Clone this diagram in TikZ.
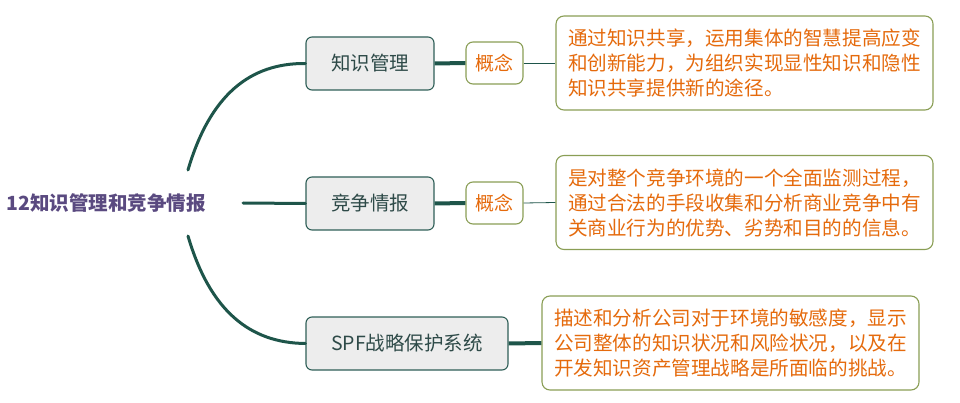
\documentclass[tikz,border=0pt]{standalone}
\usepackage{fontspec}
\setmainfont{Noto Sans CJK SC}
\usetikzlibrary{positioning}
\definecolor{trunkc}{HTML}{1E554A}
\definecolor{nodeb}{HTML}{2F5F57}
\definecolor{nodet}{HTML}{2E4A48}
\definecolor{olive}{HTML}{8A9E55}
\definecolor{orangec}{HTML}{E56A0C}
\definecolor{rootc}{HTML}{5A4A80}
\definecolor{boxfill}{HTML}{EDEDED}
\tikzset{
  trunk/.style={draw=trunkc, line width=3pt, line cap=round},
  branch/.style={draw=trunkc, line width=4pt},
  thin/.style={draw=trunkc, line width=0.8pt},
  topic/.style={draw=nodeb, fill=boxfill, line width=1.1pt, rounded corners=6pt,
    minimum height=53pt, text=nodet, font=\fontsize{19.5}{24}\selectfont, inner sep=0pt},
  concept/.style={draw=olive, fill=white, line width=1.1pt, rounded corners=7pt,
    minimum width=57pt, minimum height=42pt, text=orangec, font=\fontsize{19}{24}\selectfont, inner sep=0pt},
  desc/.style={draw=olive, fill=white, line width=1.1pt, rounded corners=8pt,
    minimum width=377pt, minimum height=94pt, text=orangec, align=left,
    font=\fontsize{19.6}{25}\selectfont, inner xsep=6pt, inner ysep=0pt},
}
\begin{document}
\begin{tikzpicture}[x=1pt,y=-1pt]
\useasboundingbox (0,0) rectangle (960,403);
\node[text=rootc, font=\fontsize{19.5}{24}\selectfont\bfseries] (root) at (106,203) {12知识管理和竞争情报};
\coordinate (rj) at (243,203);
\coordinate (ra) at (188,170);
\coordinate (rb) at (188,236);

\node[topic, minimum width=128pt] (n1) at (370,63.5) {知识管理};
\node[topic, minimum width=128pt] (n2) at (370,203.5) {竞争情报};
\node[topic, minimum width=202pt] (n3) at (407,343.5) {SPF战略保护系统};

\node[concept] (c1) at (494.5,63) {概念};
\node[concept] (c2) at (494.5,203) {概念};

\node[desc] (d1) at (744.5,63) {通过知识共享，运用集体的智慧提高应变\\和创新能力，为组织实现显性知识和隐性\\知识共享提供新的途径。};
\node[desc] (d2) at (744.5,202.5) {是对整个竞争环境的一个全面监测过程，\\通过合法的手段收集和分析商业竞争中有\\关商业行为的优势、劣势和目的的信息。};
\node[desc] (d3) at (730.5,343) {描述和分析公司对于环境的敏感度，显示\\公司整体的知识状况和风险状况，以及在\\开发知识资产管理战略是所面临的挑战。};

\draw[trunk] (rj) -- (n2.west);
\draw[trunk] (ra) .. controls (210,95) and (250,63) .. (n1.west);
\draw[trunk] (rb) .. controls (210,311) and (250,343) .. (n3.west);

\draw[branch] (n1.east) -- (c1.west);
\draw[branch] (n2.east) -- (c2.west);
\draw[branch] (n3.east) -- (d3.west);
\draw[thin] (c1.east) -- (d1.west);
\draw[thin] (c2.east) -- (d2.west);
\end{tikzpicture}
\end{document}
